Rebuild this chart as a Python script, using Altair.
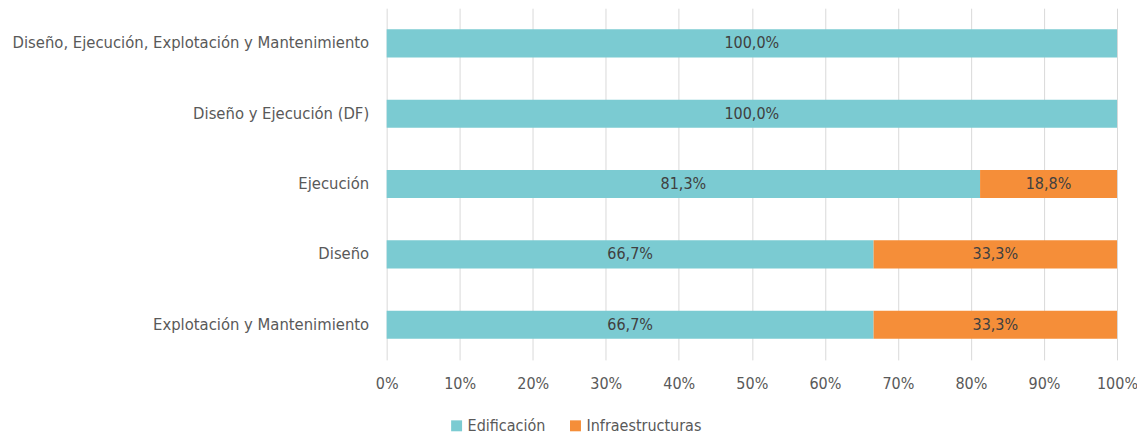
import altair as alt
import pandas as pd

categories = [
    "Diseño, Ejecución, Explotación y Mantenimiento",
    "Diseño y Ejecución (DF)",
    "Ejecución",
    "Diseño",
    "Explotación y Mantenimiento",
]
series = ["Edificación", "Infraestructuras"]
edificacion = [100.0, 100.0, 81.25, 66.67, 66.67]
infraestructuras = [0.0, 0.0, 18.75, 33.33, 33.33]
colors = ["#7BCBD2", "#F58E39"]

rows = []
for i, c in enumerate(categories):
    for j, (s, vals) in enumerate(zip(series, [edificacion, infraestructuras])):
        v = vals[i]
        lab = (f"{v + 1e-9:.1f}".replace(".", ",") + "%") if v > 0 else ""
        rows.append({"cat": c, "serie": s, "ord": j, "value": v, "label": lab})
df = pd.DataFrame(rows)

FONT = "DejaVu Sans Condensed, Liberation Sans Narrow, sans-serif"

base = alt.Chart(df).transform_stack(
    stack="value", groupby=["cat"], sort=[alt.SortField("ord")], as_=["x0", "x1"]
).transform_calculate(mid="(datum.x0 + datum.x1) / 2")

yenc = alt.Y(
    "cat:N",
    sort=categories,
    title=None,
    scale=alt.Scale(paddingInner=0.6, paddingOuter=0.3),
    axis=alt.Axis(domain=False, ticks=False, grid=False, labelPadding=18,
                  labelFontSize=16.5, labelColor="#595959", labelFont=FONT,
                  labelLimit=400),
)

bars = base.mark_bar().encode(
    x=alt.X("x0:Q", scale=alt.Scale(domain=[0, 100], nice=False), title=None,
            axis=alt.Axis(values=list(range(0, 101, 10)), labelExpr="datum.value + '%'",
                          domain=False, ticks=False, grid=True, gridColor="#D9D9D9",
                          gridWidth=1, labelPadding=16, labelFontSize=16,
                          labelColor="#595959", labelFont=FONT, labelFlush=False)),
    x2="x1:Q",
    y=yenc,
    color=alt.Color("serie:N", sort=series, scale=alt.Scale(domain=series, range=colors),
                    legend=alt.Legend(title=None, orient="none", direction="horizontal",
                                      legendX=62, legendY=410, symbolType="square",
                                      symbolSize=120, symbolStrokeWidth=0,
                                      symbolOpacity=1,
                                      labelFontSize=16, labelColor="#595959",
                                      labelFont=FONT, columnPadding=22, labelOffset=3)),
)

texts = base.mark_text(fontSize=16, color="#404040", font=FONT).encode(
    x=alt.X("mid:Q"),
    y=alt.Y("cat:N", sort=categories),
    text="label:N",
)

chart = (bars + texts).properties(
    width=731, height=352,
    autosize=alt.AutoSizeParams(type="none"),
    padding={"left": 379, "top": 0, "right": 20, "bottom": 78},
).configure_view(stroke=None)

chart.save("out.html", embed_options={"renderer": "svg", "actions": False})
